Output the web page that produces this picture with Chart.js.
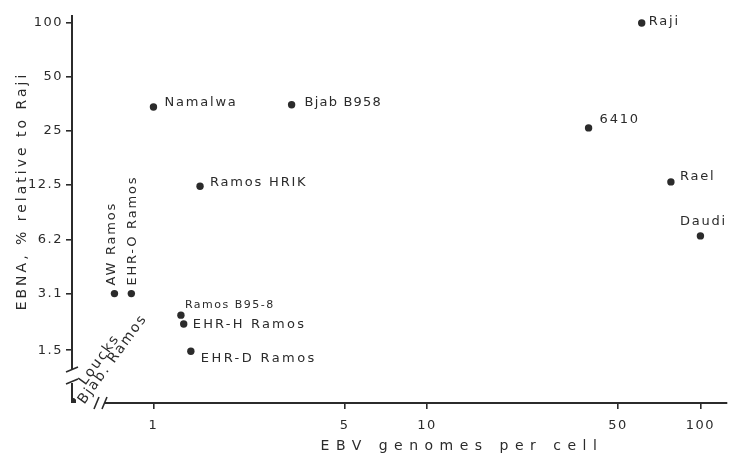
<!DOCTYPE html>
<html>
<head>
<meta charset="utf-8">
<script src="https://cdn.jsdelivr.net/npm/chart.js@4.4.1/dist/chart.umd.min.js"></script>
<style>
  html, body { margin: 0; padding: 0; background: #fff; }
  #wrap { width: 731px; height: 458px; }
</style>
</head>
<body>
<div id="wrap"><canvas id="c" width="731" height="458"></canvas></div>
<script>
// Cell lines: EBV genome copies per cell vs. EBNA level (% of Raji)
const cellLines = ['Raji', 'Namalwa', 'Bjab B958', '6410', 'Ramos HRIK', 'Rael', 'Daudi',
  'AW Ramos', 'EHR-O Ramos', 'Ramos B95-8', 'EHR-H Ramos', 'EHR-D Ramos', 'Loucks', 'Bjab, Ramos'];
const genomesPerCell = [61, 1.0, 3.2, 39, 1.48, 78, 100, 0.72, 0.83, 1.26, 1.29, 1.37, 0, 0];
const ebnaPercent = [100, 34, 35, 26, 12.3, 13, 6.5, 3.1, 3.1, 2.35, 2.1, 1.48, 0, 0];

const xTickValues = [1, 5, 10, 50, 100];
const yTickValues = [1.5, 3.1, 6.2, 12.5, 25, 50, 100];

const xTitle = 'EBV genomes per cell';
const yTitle = 'EBNA, % relative to Raji';

// Zero values sit on the broken part of each axis, at its origin
const X_MIN = 0.5036, X_MAX = 125.4;
const Y_MIN = 0.761, Y_MAX = 110.8;
const zeroX = 0.505, zeroY = 0.775;

const INK = '#2b2b2b';
const FONT = '"DejaVu Sans", sans-serif';

// Label placement relative to each dot (text starts at dx, vertical centre at dy)
const labelStyle = {
  'Raji':        { dx: 7,  dy: -1 },
  'Namalwa':     { dx: 11, dy: -4 },
  'Bjab B958':   { dx: 13, dy: -2, spacing: 1.2 },
  '6410':        { dx: 11, dy: -8 },
  'Ramos HRIK':  { dx: 10, dy: -4 },
  'Rael':        { dx: 9,  dy: -5 },
  'Daudi':       { dx: 3,  dy: -14, align: 'center' },
  'AW Ramos':    { dx: -3, dy: -8, rot: -90 },
  'EHR-O Ramos': { dx: 1,  dy: -8, rot: -90 },
  'Ramos B95-8': { dx: 4,  dy: -10, size: 11, spacing: 1.5 },
  'EHR-H Ramos': { dx: 9,  dy: 1, spacing: 2.2 },
  'EHR-D Ramos': { dx: 10, dy: 7, spacing: 2.4 },
  'Loucks':      { dx: 10, dy: -18, rot: -54, size: 14 },
  'Bjab, Ramos': { dx: 9,  dy: 1, rot: -54, size: 14, text: 'Bjab. Ramos' }
};

const points = cellLines.map((name, i) => ({
  x: genomesPerCell[i] === 0 ? zeroX : genomesPerCell[i],
  y: ebnaPercent[i] === 0 ? zeroY : ebnaPercent[i],
  name
}));

// Axis lines with break marks, axis titles and the point labels
const annotate = {
  id: 'annotate',
  beforeDraw(chart) { chart.ctx.letterSpacing = '1.5px'; },
  afterDatasetsDraw(chart) {
    const ctx = chart.ctx;
    const a = chart.chartArea;
    ctx.save();
    ctx.strokeStyle = INK;
    ctx.lineWidth = 2;
    ctx.lineCap = 'butt';
    // y axis, upper part and lower stub
    ctx.beginPath();
    ctx.moveTo(a.left, a.top); ctx.lineTo(a.left, a.bottom - 33);
    ctx.moveTo(a.left, a.bottom - 20); ctx.lineTo(a.left, a.bottom);
    ctx.stroke();
    ctx.lineWidth = 1.6;
    ctx.beginPath();
    ctx.moveTo(a.left - 6, a.bottom - 31); ctx.lineTo(a.left + 6, a.bottom - 36);
    ctx.moveTo(a.left - 6, a.bottom - 19); ctx.lineTo(a.left + 6, a.bottom - 24);
    ctx.stroke();
    // x axis after the break
    ctx.lineWidth = 2;
    ctx.beginPath();
    ctx.moveTo(a.left + 32, a.bottom); ctx.lineTo(a.right, a.bottom);
    ctx.stroke();
    ctx.lineWidth = 1.6;
    ctx.beginPath();
    ctx.moveTo(a.left + 22, a.bottom + 6); ctx.lineTo(a.left + 27, a.bottom - 6);
    ctx.moveTo(a.left + 30, a.bottom + 6); ctx.lineTo(a.left + 35, a.bottom - 6);
    ctx.stroke();

    ctx.fillStyle = INK;
    ctx.textBaseline = 'middle';

    // axis titles
    ctx.save();
    ctx.font = `14px ${FONT}`;
    ctx.letterSpacing = '6.5px';
    ctx.textAlign = 'center';
    ctx.fillText(xTitle, 462, 446);
    ctx.translate(22, 191);
    ctx.rotate(-Math.PI / 2);
    ctx.letterSpacing = '3px';
    ctx.fillText(yTitle, 0, 0);
    ctx.restore();

    // point labels
    const meta = chart.getDatasetMeta(0);
    meta.data.forEach((el, i) => {
      const name = cellLines[i];
      const s = labelStyle[name] || { dx: 8, dy: 0 };
      ctx.save();
      ctx.font = `${s.size || 13}px ${FONT}`;
      ctx.letterSpacing = (s.spacing != null ? s.spacing : 1.8) + 'px';
      ctx.translate(el.x + s.dx, el.y + s.dy);
      if (s.rot) ctx.rotate(s.rot * Math.PI / 180);
      ctx.textAlign = s.align || 'left';
      ctx.fillText(s.text || name, 0, 0);
      ctx.restore();
    });
    ctx.restore();
  },
  afterDraw(chart) { chart.ctx.letterSpacing = '0px'; }
};

new Chart(document.getElementById('c'), {
  type: 'scatter',
  data: {
    datasets: [{
      data: points,
      backgroundColor: INK,
      borderColor: INK,
      pointRadius: 3.7,
      pointHoverRadius: 3.7,
      borderWidth: 0
    }]
  },
  options: {
    responsive: false,
    animation: false,
    devicePixelRatio: 1,
    layout: { padding: { top: 15, right: 0, left: 0, bottom: 0 } },
    plugins: { legend: { display: false }, tooltip: { enabled: false } },
    scales: {
      x: {
        type: 'logarithmic',
        min: X_MIN, max: X_MAX,
        afterBuildTicks: (scale) => { scale.ticks = xTickValues.map(v => ({ value: v })); },
        afterFit: (scale) => { scale.height = 55; },
        border: { display: false },
        grid: { display: true, drawOnChartArea: false, drawTicks: true, tickLength: 6, color: INK, lineWidth: 1.6 },
        ticks: { autoSkip: false, maxRotation: 0, color: INK, padding: 9, font: { family: FONT, size: 13 },
                 callback: (v) => String(v) }
      },
      y: {
        type: 'logarithmic',
        min: Y_MIN, max: Y_MAX,
        afterBuildTicks: (scale) => { scale.ticks = yTickValues.map(v => ({ value: v })); },
        afterFit: (scale) => { scale.width = 72; },
        border: { display: false },
        grid: { display: true, drawOnChartArea: false, drawTicks: true, tickLength: 6, color: INK, lineWidth: 1.6 },
        ticks: { autoSkip: false, color: INK, padding: 3, font: { family: FONT, size: 13 },
                 callback: (v) => String(v) }
      }
    }
  },
  plugins: [annotate]
});
</script>
</body>
</html>
